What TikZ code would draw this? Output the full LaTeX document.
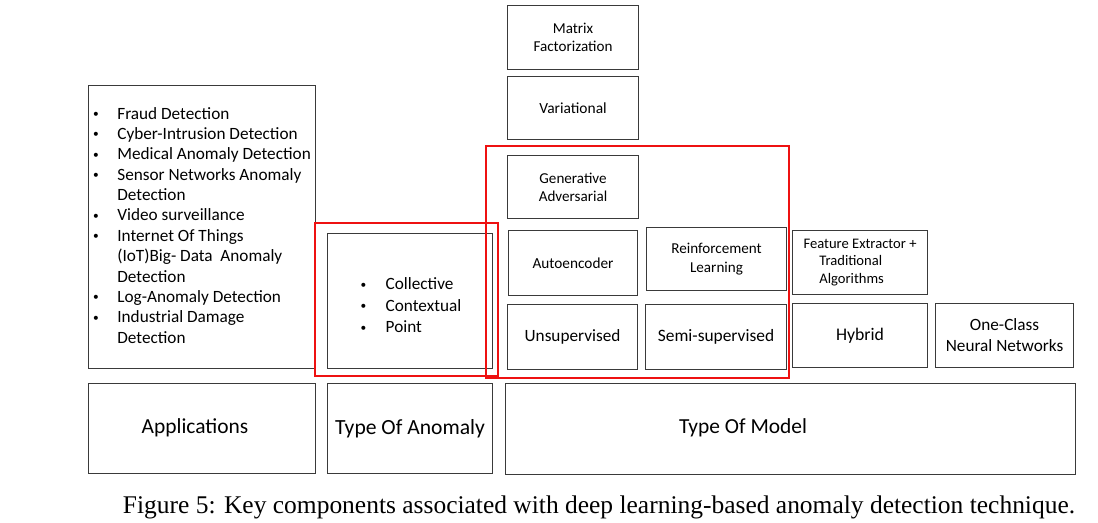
\documentclass[tikz,border=0pt]{standalone}
\usepackage{fontspec}
\setmainfont{Carlito}
\newfontfamily\capfont{Liberation Serif}
\newcommand{\itemdot}{\raisebox{0.2ex}{\fontsize{6.5}{6.5}\selectfont\textbullet}}
\begin{document}
\begin{tikzpicture}[x=0.02cm, y=-0.02cm,
    box/.style={draw=borderColour, line width=0.6pt, anchor=north west, inner sep=0pt, align=center},
    label/.style={inner sep=0pt, align=center},
    redbox/.style={draw=redColour, line width=1.3pt}]
    \def\px{0.02cm}

    \definecolor{borderColour}{HTML}{3A3A3A}
    \definecolor{redColour}{HTML}{EE1111}

    % Page size
    \useasboundingbox (0,0) rectangle (1098,522);

    % Applications
    \node[box, minimum width=227*\px, minimum height=283*\px, font=\fontsize{9.8}{11.6}\selectfont] (appList) at (88,85) {%
        \begin{tabular}{@{}l@{\hspace{10.5pt}}l@{}}
        \itemdot & Fraud Detection\\
        \itemdot & Cyber-Intrusion Detection\\
        \itemdot & Medical Anomaly Detection\\
        \itemdot & Sensor Networks Anomaly\\
                 & Detection\\
        \itemdot & Video surveillance\\
        \itemdot & Internet Of Things\\
                 & (IoT)Big- Data\ \ Anomaly\\
                 & Detection\\
        \itemdot & Log-Anomaly Detection\\
        \itemdot & Industrial Damage\\
                 & Detection
        \end{tabular}};
    \node[box, minimum width=227*\px, minimum height=90*\px] (appBox) at (88,383) {};
    \node[label, font=\fontsize{12.2}{14}\selectfont] (applications) at (195,428) {Applications};

    % Type of anomaly
    \node[box, minimum width=165*\px, minimum height=135*\px] (anomalyBox) at (327,233) {};
    \node[label, font=\fontsize{9.8}{12.2}\selectfont] (anomalyList) at (411,307) {%
        \begin{tabular}{@{}l@{\hspace{11pt}}l@{}}
        \itemdot & Collective\\
        \itemdot & Contextual\\
        \itemdot & Point
        \end{tabular}};
    \node[box, minimum width=165*\px, minimum height=90*\px, font=\fontsize{12.3}{14}\selectfont] (anomalyType) at (327,383) {Type Of Anomaly};

    % Deep models
    \node[box, minimum width=131*\px, minimum height=64*\px, font=\fontsize{8.6}{10.2}\selectfont] (matrix) at (507,5) {Matrix\\Factorization};
    \node[box, minimum width=131*\px, minimum height=63*\px, font=\fontsize{8.8}{10.2}\selectfont] (variational) at (507,76) {Variational};
    \node[box, minimum width=131*\px, minimum height=63*\px, font=\fontsize{8.6}{10.2}\selectfont] (generative) at (507,155) {Generative\\Adversarial};
    \node[box, minimum width=129*\px, minimum height=65*\px, font=\fontsize{8.7}{10.6}\selectfont] (autoencoder) at (508,230) {Autoencoder};
    \node[box, minimum width=140*\px, minimum height=63*\px, font=\fontsize{8.6}{10.4}\selectfont] (reinforcement) at (646,227) {Reinforcement\\Learning};
    \node[box, minimum width=130*\px, minimum height=65*\px, font=\fontsize{9.8}{12}\selectfont] (unsupervised) at (507,304) {Unsupervised};
    \node[box, minimum width=141*\px, minimum height=65*\px, font=\fontsize{9.9}{12}\selectfont] (semi) at (645,304) {Semi-supervised};
    \node[box, minimum width=135*\px, minimum height=64*\px, font=\fontsize{8.3}{10}\selectfont, align=left] (feature) at (792,230) {Feature Extractor +\\\hspace*{9pt}Traditional\\\hspace*{9pt}Algorithms};
    \node[box, minimum width=135*\px, minimum height=64*\px, font=\fontsize{10.1}{12}\selectfont] (hybrid) at (792,303) {Hybrid};
    \node[box, minimum width=138*\px, minimum height=64*\px, font=\fontsize{9.8}{12}\selectfont] (oneClass) at (935,303) {One-Class\\Neural Networks};
    \node[box, minimum width=570*\px, minimum height=91*\px] (modelBox) at (505,383) {};
    \node[label, font=\fontsize{12.2}{14}\selectfont] (modelType) at (743,428) {Type Of Model};

    % Highlight frames
    \draw[redbox] (315,223) rectangle (498,376);
    \draw[redbox] (486,146) rectangle (789,378);

    % Caption
    \node[font=\capfont\fontsize{14.5}{17}\selectfont] (caption) at (599,507) {Figure 5: Key components associated with deep learning-based anomaly detection technique.};

\end{tikzpicture}
\end{document}
